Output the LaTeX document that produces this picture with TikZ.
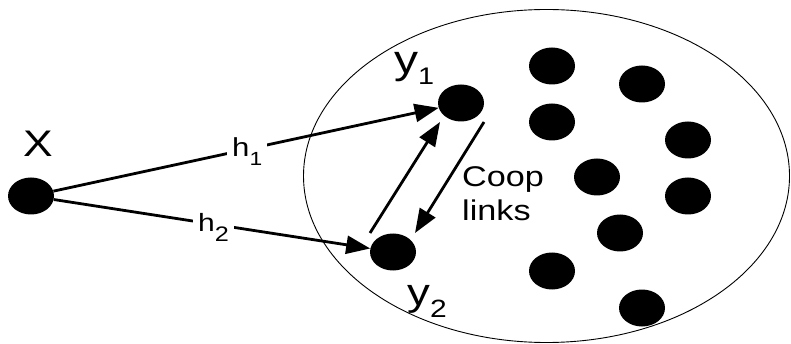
\documentclass[tikz,border=0pt]{standalone}
\usepackage{fontspec}
\newfontfamily\lab[FakeStretch=1.2]{Liberation Sans}
\usetikzlibrary{shapes.geometric,arrows.meta,calc}
\begin{document}
\begin{tikzpicture}[x=1pt,y=-1pt,
  dot/.style={ellipse, fill=black, minimum width=46pt, minimum height=37pt, inner sep=0pt},
  link/.style={line width=2.8pt, -{Triangle[length=24pt,width=18pt]}},
  lbl/.style={inner sep=0pt, anchor=base west, font=\lab},
  hlbl/.style={lbl, fill=white, inner xsep=5pt, inner ysep=3pt}]
\useasboundingbox (0,0) rectangle (791,344);
\draw[line width=0.9pt] (546.5,176) ellipse [x radius=243, y radius=166.5];
\node[dot] (x) at (31,196) {};
\node[dot] (y1) at (461,103) {};
\node[dot] (y2) at (393,252) {};
\node[dot] (d1) at (552,66) {};
\node[dot] (d2) at (642,84) {};
\node[dot] (d3) at (552,122) {};
\node[dot] (d4) at (688,140) {};
\node[dot] (d5) at (597,177) {};
\node[dot] (d6) at (688,196) {};
\node[dot] (d7) at (620,233) {};
\node[dot] (d8) at (552,271) {};
\node[dot] (d9) at (642,308) {};
\draw[link] (x) -- (y1);
\draw[link] (x) -- (y2);
\draw[link] ($(y2)+(-23,-19)$) -- ($(y1)+(-21,19)$);
\draw[link] ($(y1)+(23,19)$) -- ($(y2)+(22,-19)$);
\node[hlbl] (h1) at (227,157) {\fontsize{26}{26}\selectfont h\raisebox{-9pt}{\fontsize{19}{19}\selectfont 1}};
\node[hlbl] (h2) at (193,232) {\fontsize{25}{25}\selectfont h\raisebox{-10pt}{\fontsize{21}{21}\selectfont 2}};
\node[lbl] (xl) at (23,157) {\fontsize{37}{37}\selectfont X};
\node[lbl] (y1l) at (394,74) {\fontsize{40}{40}\selectfont y\raisebox{-11pt}{\fontsize{24}{24}\selectfont 1}};
\node[lbl] (y2l) at (407,305) {\fontsize{38}{38}\selectfont y\raisebox{-13pt}{\fontsize{25}{25}\selectfont 2}};
\node[lbl, align=left, font=\lab\fontsize{28.5}{34}\selectfont] (coop) at (462,221) {Coop\\links};
\end{tikzpicture}
\end{document}
